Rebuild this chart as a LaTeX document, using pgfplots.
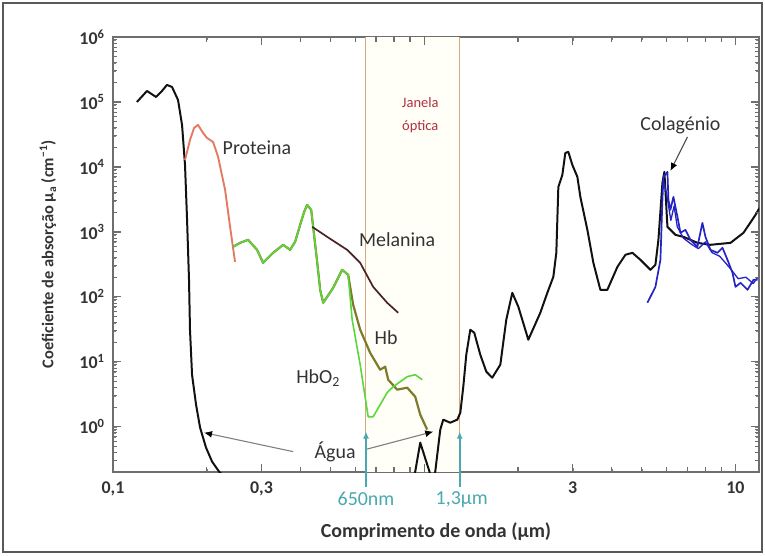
\documentclass[border=0pt]{standalone}
\usepackage{fontspec}
\setmainfont{Carlito}
\usepackage{pgfplots}
\pgfplotsset{compat=1.18}
\usetikzlibrary{arrows.meta,calc}

\definecolor{agua}{HTML}{111111}
\definecolor{prot}{HTML}{E57A62}
\definecolor{hbo}{HTML}{5CD63A}
\definecolor{hb}{HTML}{7E7A2C}
\definecolor{mel}{HTML}{4A2222}
\definecolor{col}{HTML}{2424C4}
\definecolor{janela}{HTML}{B03040}
\definecolor{teal}{HTML}{4AA8B0}
\definecolor{vline}{HTML}{D9A77A}
\definecolor{eixo}{HTML}{6E6E6E}
\definecolor{texto}{HTML}{333333}
\definecolor{creme}{HTML}{FFFEF7}

\begin{document}
\begin{tikzpicture}
\begin{loglogaxis}[
    width=646bp, height=435bp, scale only axis,
    xmin=0.1, xmax=11.9, ymin=0.2, ymax=1e6,
    log basis y=10,
    axis line style={eixo, line width=1.6pt},
    xtick={0.1,0.3,3,10},
    xticklabels={{0,1},{0,3},3,10},
    minor xtick={0.2,0.4,0.5,0.6,0.7,0.8,0.9,1,2,4,5,6,7,8,9},
    yticklabel={10\textsuperscript{\pgfmathparse{int(round(\tick))}\pgfmathresult}},
    tick label style={font=\fontsize{18}{20}\selectfont\bfseries, text=texto},
    xticklabel style={yshift=-6pt},
    yticklabel style={xshift=-5pt},
    xlabel={Comprimento de onda (µm)},
    ylabel={Coeficiente de absorção µ\textsubscript{a} (cm\textsuperscript{−1})},
    xlabel style={font=\fontsize{20}{22}\selectfont\bfseries, text=texto,
        at={(axis description cs:0.5,-0.138)}, anchor=center},
    ylabel style={font=\fontsize{16.5}{18}\selectfont\bfseries, text=texto,
        at={(axis description cs:-0.1006,0.5)}, anchor=center},
]
% janela optica
\fill[creme] (axis cs:0.65,0.2) rectangle (axis cs:1.3,1e6);
\draw[vline, line width=1pt] (axis cs:0.65,0.2) -- (axis cs:0.65,1e6);
\draw[vline, line width=1pt] (axis cs:1.3,0.2) -- (axis cs:1.3,1e6);

% agua
\addplot[agua, line width=2pt, line join=round] coordinates {
(0.1194,1e5) (0.1286,1.476e5) (0.1375,1.194e5) (0.1437,1.476e5) (0.1491,1.83e5)
(0.1548,1.70e5) (0.1618,1.074e5) (0.1667,4.43e4) (0.1704,1.07e4) (0.173,1530)
(0.1755,183) (0.1768,31) (0.1795,6.3) (0.1849,2.18) (0.1905,0.965) (0.1991,0.475)
(0.2081,0.29) (0.2192,0.203) (0.3,0.05) (0.9,0.05)
(0.9355,0.203) (0.971,0.567) (1.015,0.29) (1.061,0.15) (1.085,0.203) (1.126,0.899)
(1.151,1.28) (1.212,1.15) (1.277,1.28) (1.306,1.64) (1.335,4.12) (1.365,12.8)
(1.406,31.1) (1.448,27.9) (1.514,12.8) (1.583,7.02) (1.654,5.67) (1.756,9.0)
(1.835,44.3) (1.919,115) (2.006,70.2) (2.160,21.8) (2.360,56.7) (2.486,115)
(2.599,203) (2.657,475) (2.697,4925) (2.778,7530) (2.840,1.64e4) (2.904,1.7e4)
(2.992,1.07e4) (3.105,7020) (3.174,3455) (3.343,1073) (3.495,333) (3.681,128)
(3.876,128) (4.175,289) (4.43,443) (4.665,475) (4.95,371) (5.33,260) (5.53,311)
(5.655,753) (5.825,5675) (5.91,8380) (6.045,1194) (6.414,899) (6.806,837)
(7.546,677) (8.31,631) (9.64,677) (10.61,966) (11.6,1827) (11.95,2340)
};

% proteina
\addplot[prot, line width=1.9pt, line join=round] coordinates {
(0.1704,1.28e4) (0.1768,2.6e4) (0.1822,3.98e4) (0.1876,4.43e4) (0.1947,3.34e4)
(0.2005,2.79e4) (0.2097,2.42e4) (0.2176,1.43e4) (0.2292,4430) (0.2378,1194)
(0.2467,345)
};

% Hb
\addplot[hb, line width=2.2pt, line join=round] coordinates {
(0.2431,588) (0.2561,677) (0.2718,753) (0.2904,528) (0.3036,333) (0.3269,475)
(0.3521,631) (0.3709,528) (0.3848,702) (0.3994,1281) (0.4114,2031) (0.4206,2602)
(0.4333,2179) (0.4397,1194) (0.4529,345) (0.4631,128) (0.4735,80.8) (0.5098,137)
(0.5449,260) (0.5696,218) (0.5912,75.3) (0.6226,31.1) (0.6703,13.7) (0.7219,7.53)
(0.7492,8.38) (0.766,5.28) (0.8188,3.71) (0.8818,3.98) (0.9355,2.89) (0.971,1.53)
(1.022,0.899)
};

% HbO2
\addplot[hbo, line width=1.6pt, line join=round] coordinates {
(0.2431,588) (0.2561,677) (0.2718,753) (0.2904,528) (0.3036,333) (0.3269,475)
(0.3521,631) (0.3709,528) (0.3848,702) (0.3994,1281) (0.4114,2031) (0.4206,2602)
(0.4333,2179) (0.4397,1194) (0.4529,345) (0.4631,128) (0.4735,80.8) (0.5098,137)
(0.5449,260) (0.5696,218) (0.5868,44.3) (0.6226,9.0) (0.6604,1.42) (0.6855,1.42)
(0.7219,2.18) (0.7603,3.34) (0.7949,4.12) (0.8818,5.88) (0.9355,6.31) (0.9853,5.28)
};

% melanina
\addplot[mel, line width=1.7pt, line join=round] coordinates {
(0.4365,1194) (0.4877,837) (0.5655,528) (0.6226,333) (0.6855,142) (0.7603,80.8)
(0.8249,56.7)
};

% colagenio
\addplot[col, line width=1.7pt, line join=round] coordinates {
(5.212,80.8) (5.53,142) (5.74,371) (5.825,3105) (5.87,7020) (6.045,8380)
(6.09,3105) (6.18,2179) (6.319,3455) (6.51,1701) (6.656,966) (6.907,1073)
(7.168,753) (7.546,588) (7.831,1375) (8.007,837) (8.31,528) (8.753,475)
(9.083,568) (9.425,371) (9.78,234) (10.0,142) (10.38,164) (10.93,128)
(11.43,183) (11.77,183)
};
\addplot[col, line width=1.3pt, line join=round] coordinates {
(5.87,6000) (6.0,4000) (6.2,1500) (6.35,2500) (6.5,1200) (6.8,800) (7.2,650)
(7.6,550) (8.0,700) (8.4,480) (8.9,420) (9.3,330) (9.7,260) (10.2,190)
(10.8,200) (11.4,160) (11.8,200)
};

% anotacoes
\begin{scope}[font=\fontsize{20}{22}\selectfont, text=texto]
\node at (axis cs:0.29,1.96e4) {Proteina};
\node at (axis cs:0.8188,753) {Melanina};
\node at (axis cs:0.7546,23.4) {Hb};
\node at (axis cs:0.4562,5.67) {HbO\textsubscript{2}};
\node at (axis cs:0.5173,0.412) {Água};
\node at (axis cs:6.656,4.43e4) {Colagénio};
\end{scope}
\node[font=\fontsize{14.5}{16}\selectfont, text=janela] at (axis cs:0.971,9.65e4) {Janela};
\node[font=\fontsize{14.5}{16}\selectfont, text=janela] at (axis cs:0.971,4.12e4) {óptica};

\draw[gray, line width=1.1pt, -{Latex[length=8pt,width=7pt,color=black]}] (axis cs:0.3792,0.412) -- (axis cs:0.1962,0.808);
\draw[gray, line width=1.1pt, -{Latex[length=8pt,width=7pt,color=black]}] (axis cs:0.646,0.443) -- (axis cs:1.069,0.838);
\draw[gray!60!black, line width=1.1pt, -{Latex[length=8pt,width=7pt,color=black]}] (axis cs:7.01,2.89e4) -- (axis cs:6.18,8680);

% pontos para o que fica fora da area do eixo
\coordinate (t1) at (axis cs:0.65,0.838);
\coordinate (t2) at (axis cs:1.3,0.838);
\coordinate (l1) at (axis cs:0.65,0.076);
\coordinate (l2) at (axis cs:1.32,0.076);
\coordinate (base) at (axis description cs:0,-0.035);
\coordinate (sw) at (axis description cs:0,0);
\coordinate (se) at (axis description cs:1,0);
\coordinate (nw) at (axis description cs:0,1);
\coordinate (ne) at (axis description cs:1,1);
\coordinate (bb1) at (axis description cs:-0.1749,-0.1908);
\coordinate (bb2) at (axis description cs:1.0093,1.0851);
\coordinate (fr1) at (axis description cs:-0.1703,-0.1839);
\coordinate (fr2) at (axis description cs:1.0046,1.0782);
\end{loglogaxis}

% marcas dos eixos, postas depois do eixo
\foreach \v in {0.3,1,3,10} {
  \pgfmathsetmacro\f{(log10(\v)+1)/(log10(11.9)+1)}
  \draw[eixo, line width=1.4pt] ($(sw)!\f!(se)$) -- ++(0,8pt);
  \draw[eixo, line width=1.4pt] ($(nw)!\f!(ne)$) -- ++(0,-8pt);
}
\foreach \v in {0.2,0.4,0.5,0.6,0.7,0.8,0.9,2,4,5,6,7,8,9} {
  \pgfmathsetmacro\f{(log10(\v)+1)/(log10(11.9)+1)}
  \draw[eixo, line width=1.2pt] ($(sw)!\f!(se)$) -- ++(0,5pt);
  \draw[eixo, line width=1.2pt] ($(nw)!\f!(ne)$) -- ++(0,-5pt);
}
\foreach \e in {0,1,2,3,4,5} {
  \pgfmathsetmacro\f{(\e-log10(0.2))/(6-log10(0.2))}
  \draw[eixo, line width=1.4pt] ($(sw)!\f!(nw)$) -- ++(8pt,0);
  \draw[eixo, line width=1.4pt] ($(se)!\f!(ne)$) -- ++(-8pt,0);
}
\foreach \e in {-1,0,1,2,3,4,5} {
  \foreach \m in {2,3,4,5,6,7,8,9} {
    \pgfmathsetmacro\lv{\e+log10(\m)}
    \pgfmathsetmacro\f{(\lv-log10(0.2))/(6-log10(0.2))}
    \pgfmathparse{\f>0.001 ? 1 : 0}
    \ifnum\pgfmathresult=1
      \draw[eixo, line width=1pt] ($(sw)!\f!(nw)$) -- ++(4.5pt,0);
      \draw[eixo, line width=1pt] ($(se)!\f!(ne)$) -- ++(-4.5pt,0);
    \fi
  }
}

\draw[teal, line width=1.8pt, -{Latex[length=7pt,width=6pt]}] (t1 |- base) -- (t1);
\draw[teal, line width=1.8pt, -{Latex[length=7pt,width=6pt]}] (t2 |- base) -- (t2);
\node[font=\fontsize{20}{22}\selectfont, text=teal] at (l1) {650nm};
\node[font=\fontsize{20}{22}\selectfont, text=teal] at (l2) {1,3µm};

% moldura
\path (bb1) rectangle (bb2);
\draw[gray!70!black, line width=1.8pt] (fr1) rectangle (fr2);
\end{tikzpicture}
\end{document}
